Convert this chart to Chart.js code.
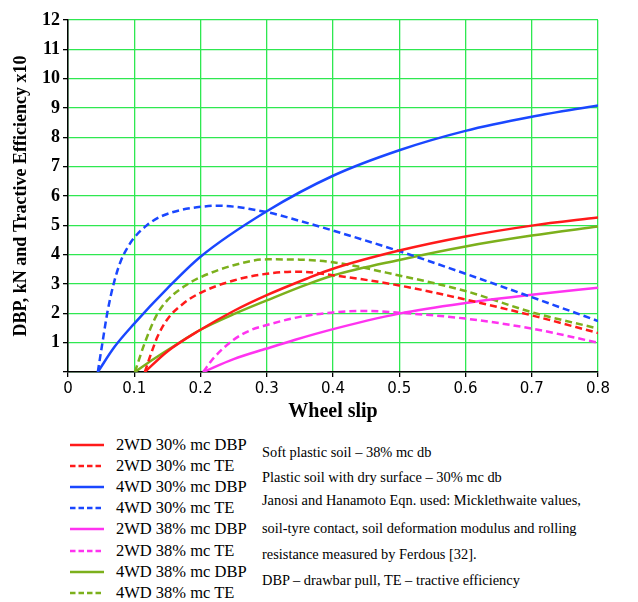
<!DOCTYPE html>
<html>
<head>
<meta charset="utf-8">
<script src="https://cdn.jsdelivr.net/npm/chart.js@4.4.0/dist/chart.umd.min.js"></script>
<style>
  body { margin: 0; background: #fff; width: 638px; height: 602px; overflow: hidden; position: relative;
         font-family: "Liberation Serif", "Times New Roman", serif; color: #000; }
  #wrap { position: absolute; left: 0; top: 0; width: 638px; height: 430px; }
  #legend { position: absolute; left: 70px; top: 434px; }
  .row { height: 21.2px; display: flex; align-items: center; font-size: 16.5px; white-space: nowrap; }
  .row svg { margin-right: 12px; }
  .note { position: absolute; left: 262px; font-size: 14.4px; white-space: nowrap; }
</style>
</head>
<body>
<div id="wrap"><canvas id="tractionChart" width="638" height="430"></canvas></div>
<div id="legend"></div>
<div class="note" style="top:444px">Soft plastic soil – 38% mc db</div>
<div class="note" style="top:469px">Plastic soil with dry surface – 30% mc db</div>
<div class="note" style="top:492px">Janosi and Hanamoto Eqn. used: Micklethwaite values,</div>
<div class="note" style="top:520px">soil-tyre contact, soil deformation modulus and rolling</div>
<div class="note" style="top:546px">resistance measured by Ferdous [32].</div>
<div class="note" style="top:572px">DBP – drawbar pull, TE – tractive efficiency</div>
<script>
// wheel slip (x) and value (y), one pair of arrays per curve
const slip2wd30dbp = [0.116, 0.15, 0.2, 0.25, 0.3, 0.36, 0.4, 0.5, 0.6, 0.7, 0.8];
const val2wd30dbp  = [0, 0.7, 1.44, 2.08, 2.62, 3.18, 3.52, 4.14, 4.62, 4.99, 5.27];

const slip2wd30te = [0.116, 0.125, 0.135, 0.15, 0.175, 0.2, 0.25, 0.3, 0.35, 0.4, 0.5, 0.6, 0.7, 0.8];
const val2wd30te  = [0, 0.6, 1.2, 1.8, 2.35, 2.7, 3.12, 3.35, 3.42, 3.3, 2.95, 2.47, 1.93, 1.33];

const slip4wd30dbp = [0.045, 0.07, 0.1, 0.15, 0.2, 0.3, 0.4, 0.5, 0.6, 0.7, 0.8];
const val4wd30dbp  = [0, 0.85, 1.65, 2.85, 3.93, 5.48, 6.69, 7.56, 8.22, 8.70, 9.09];

const slip4wd30te = [0.045, 0.052, 0.06, 0.07, 0.08, 0.09, 0.1, 0.12, 0.14, 0.17, 0.2, 0.225, 0.3, 0.35, 0.4, 0.5, 0.6, 0.7, 0.8];
const val4wd30te  = [0, 1.0, 2.1, 3.1, 3.8, 4.25, 4.58, 5.02, 5.3, 5.52, 5.63, 5.67, 5.45, 5.15, 4.82, 4.12, 3.35, 2.55, 1.74];

const slip2wd38dbp = [0.204, 0.25, 0.3, 0.343, 0.393, 0.5, 0.6, 0.7, 0.8];
const val2wd38dbp  = [0, 0.44, 0.8, 1.1, 1.42, 1.99, 2.35, 2.63, 2.87];

const slip2wd38te = [0.204, 0.22, 0.25, 0.275, 0.3, 0.35, 0.4, 0.45, 0.5, 0.6, 0.7, 0.8];
const val2wd38te  = [0, 0.48, 1.1, 1.42, 1.6, 1.88, 2.03, 2.08, 2.02, 1.82, 1.48, 1.0];

const slip4wd38dbp = [0.101, 0.13, 0.154, 0.2, 0.25, 0.3, 0.36, 0.4, 0.5, 0.6, 0.7, 0.8];
const val4wd38dbp  = [0, 0.45, 0.8, 1.44, 1.97, 2.44, 2.98, 3.29, 3.82, 4.28, 4.65, 4.96];

const slip4wd38te = [0.101, 0.116, 0.134, 0.15, 0.181, 0.2, 0.25, 0.3, 0.35, 0.4, 0.5, 0.6, 0.7, 0.8];
const val4wd38te  = [0, 1.0, 1.95, 2.45, 3.0, 3.23, 3.64, 3.84, 3.83, 3.74, 3.29, 2.76, 2.04, 1.48];

const seriesLabels = ['2WD 30% mc DBP', '2WD 30% mc TE', '4WD 30% mc DBP', '4WD 30% mc TE',
                      '2WD 38% mc DBP', '2WD 38% mc TE', '4WD 38% mc DBP', '4WD 38% mc TE'];
const seriesSlip = [slip2wd30dbp, slip2wd30te, slip4wd30dbp, slip4wd30te, slip2wd38dbp, slip2wd38te, slip4wd38dbp, slip4wd38te];
const seriesVals = [val2wd30dbp, val2wd30te, val4wd30dbp, val4wd30te, val2wd38dbp, val2wd38te, val4wd38dbp, val4wd38te];
const seriesColors = ['#ff1a1a', '#ff1a1a', '#1a47ff', '#1a47ff', '#ff33f0', '#ff33f0', '#7cb01c', '#7cb01c'];
const seriesDashed = [false, true, false, true, false, true, false, true];

const gridGreen = '#2ee850';

const datasets = seriesLabels.map((label, i) => ({
    label: label,
    data: seriesSlip[i].map((s, j) => ({ x: s, y: seriesVals[i][j] })),
    borderColor: seriesColors[i],
    borderWidth: 2.5,
    borderDash: seriesDashed[i] ? [7, 4] : [],
    pointRadius: 0,
    fill: false,
    cubicInterpolationMode: 'monotone'
}));

const ctx = document.getElementById('tractionChart').getContext('2d');
new Chart(ctx, {
    type: 'line',
    data: { datasets: datasets },
    options: {
        responsive: false,
        animation: false,
        layout: { padding: { top: 20, right: 40, left: 0, bottom: 0 } },
        plugins: {
            legend: { display: false },
            tooltip: { enabled: false }
        },
        scales: {
            x: {
                type: 'linear', min: 0, max: 0.8,
                ticks: {
                    stepSize: 0.1, color: '#000', padding: 3,
                    font: { family: 'DejaVu Sans', size: 15 },
                    callback: v => v === 0 ? '0' : v.toFixed(1)
                },
                grid: { color: gridGreen, lineWidth: 1.3, tickColor: '#000', tickLength: 5 },
                border: { color: '#000', width: 1.5 },
                title: {
                    display: true, text: 'Wheel slip', color: '#000',
                    font: { family: 'Liberation Serif', size: 20, weight: 'bold' },
                    padding: { top: 0, bottom: 6 }
                },
                afterFit: s => { s.height = 58; }
            },
            y: {
                min: 0, max: 12,
                ticks: {
                    stepSize: 1, color: '#000', padding: 3,
                    font: { family: 'Liberation Serif', size: 18, weight: 'bold' },
                    callback: v => v === 0 ? '' : v
                },
                grid: { color: gridGreen, lineWidth: 1.3, tickColor: '#000', tickLength: 5 },
                border: { color: '#000', width: 1.5 },
                title: {
                    display: true, text: 'DBP, kN and Tractive Efficiency x10', color: '#000',
                    font: { family: 'Liberation Serif', size: 18, weight: 'bold' },
                    padding: { top: 11, bottom: 0 }
                },
                afterFit: s => { s.width = 68; }
            }
        }
    }
});

// legend rows below the chart
const legend = document.getElementById('legend');
seriesLabels.forEach((label, i) => {
    const row = document.createElement('div');
    row.className = 'row';
    const dash = seriesDashed[i] ? ' stroke-dasharray="5.5,3"' : '';
    row.innerHTML = '<svg width="34" height="6"><line x1="0" y1="3" x2="34" y2="3" stroke="' + seriesColors[i] +
        '" stroke-width="2.5"' + dash + '/></svg><span>' + label + '</span>';
    legend.appendChild(row);
});
</script>
</body>
</html>
